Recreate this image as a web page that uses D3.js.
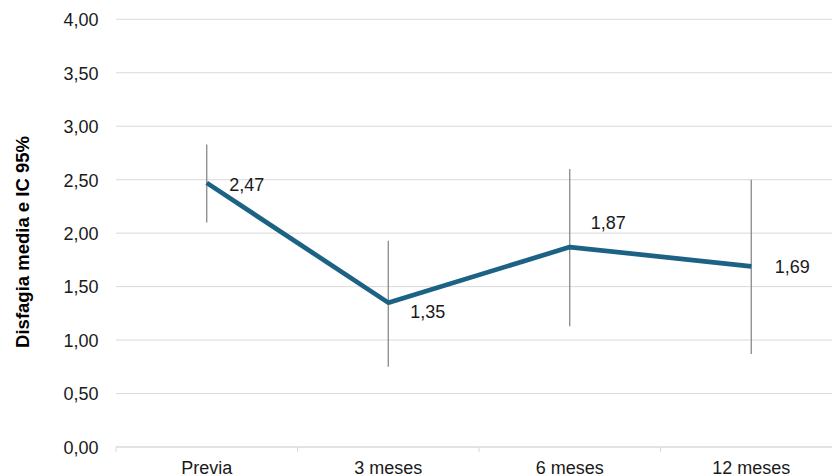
<!DOCTYPE html>
<html>
<head>
<meta charset="utf-8">
<script src="https://cdn.jsdelivr.net/npm/d3@7"></script>
<style>
  html, body { margin: 0; padding: 0; background: #ffffff; }
  svg { display: block; font-family: "Liberation Sans", Arial, sans-serif; }
</style>
</head>
<body>
<svg id="chart" width="832" height="476"></svg>
<script>
// Dysphagia score over follow-up: mean with 95% confidence interval
const categories = ["Previa", "3 meses", "6 meses", "12 meses"];
const means = [2.47, 1.35, 1.87, 1.69];
const ciLow = [2.10, 0.75, 1.13, 0.87];
const ciHigh = [2.83, 1.93, 2.60, 2.50];
const yTicks = [0, 0.5, 1, 1.5, 2, 2.5, 3, 3.5, 4];
const yTitle = "Disfagia media e IC 95%";

const svg = d3.select("#chart");
const plotLeft = 116, plotRight = 842, plotTop = 19.3, plotBottom = 447;
const fontSize = 18;
const textColor = "#1a1a1a";

const x = d3.scaleBand().domain(categories).range([plotLeft, plotRight]);
const y = d3.scaleLinear().domain([0, 4]).range([plotBottom, plotTop]);
const fmt = v => d3.format(".2f")(v).replace(".", ",");
const cx = c => x(c) + x.bandwidth() / 2;

// horizontal gridlines
svg.append("g")
  .selectAll("line")
  .data(yTicks)
  .join("line")
  .attr("x1", plotLeft).attr("x2", plotRight)
  .attr("y1", d => y(d)).attr("y2", d => y(d))
  .attr("stroke", "#d9d9d9").attr("stroke-width", 1);

// y axis labels
const yAxis = d3.axisLeft(y).tickValues(yTicks).tickFormat(fmt).tickSize(0).tickPadding(0);
svg.append("g")
  .attr("transform", `translate(98.5,0)`)
  .call(yAxis)
  .call(g => g.select(".domain").remove())
  .call(g => g.selectAll("text")
    .attr("dy", "0.35em")
    .attr("font-size", fontSize).attr("fill", textColor)
    .attr("font-family", "Liberation Sans, Arial, sans-serif"));

// x axis with category separators
const xAxis = d3.axisBottom(x).tickSize(0).tickPadding(0);
const gx = svg.append("g").attr("transform", `translate(0,${plotBottom})`).call(xAxis);
gx.select(".domain").attr("stroke", "#d9d9d9").attr("d", `M${plotLeft},0H${plotRight}`);
gx.selectAll("text")
  .attr("dy", "0")
  .attr("y", 27)
  .attr("font-size", fontSize).attr("fill", textColor)
  .attr("font-family", "Liberation Sans, Arial, sans-serif");
svg.append("g")
  .selectAll("line")
  .data(categories.concat([null]))
  .join("line")
  .attr("x1", d => d === null ? plotRight : x(d))
  .attr("x2", d => d === null ? plotRight : x(d))
  .attr("y1", plotBottom).attr("y2", plotBottom + 5)
  .attr("stroke", "#d9d9d9");

// y axis title
svg.append("text")
  .attr("transform", `translate(29,242) rotate(-90)`)
  .attr("text-anchor", "middle")
  .attr("font-size", 18.5).attr("font-weight", "bold").attr("fill", "#000")
  .text(yTitle);

// confidence interval bars
svg.append("g")
  .selectAll("line")
  .data(categories)
  .join("line")
  .attr("x1", d => cx(d)).attr("x2", d => cx(d))
  .attr("y1", (d, i) => y(ciHigh[i])).attr("y2", (d, i) => y(ciLow[i]))
  .attr("stroke", "#7f7f7f").attr("stroke-width", 1.2);

// mean line
const line = d3.line().x((d, i) => cx(categories[i])).y(d => y(d));
svg.append("path")
  .datum(means)
  .attr("d", line)
  .attr("fill", "none")
  .attr("stroke", "#1b6284")
  .attr("stroke-width", 4.7)
  .attr("stroke-linejoin", "round");

// value labels (offsets from each point, baseline-anchored)
const labelOffsets = [[22.5, 8], [22, 15.5], [21, -18], [23.5, 7]];
svg.append("g")
  .selectAll("text")
  .data(means)
  .join("text")
  .attr("x", (d, i) => cx(categories[i]) + labelOffsets[i][0])
  .attr("y", (d, i) => y(d) + labelOffsets[i][1])
  .attr("font-size", fontSize).attr("fill", textColor)
  .text(d => fmt(d));
</script>
</body>
</html>
